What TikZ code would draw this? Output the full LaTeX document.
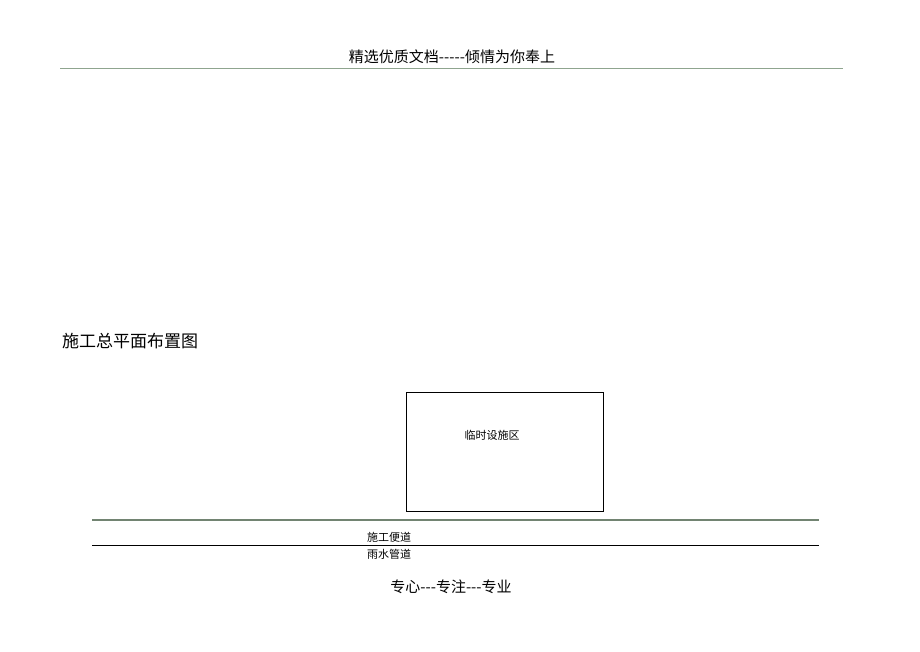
\documentclass[tikz,border=0pt]{standalone}
\usepackage{fontspec}
\setmainfont{Noto Sans CJK SC}
\usetikzlibrary{positioning}
\definecolor{rulegreen}{HTML}{8FA58F}
\tikzset{
	lbl/.style={inner sep=0pt, anchor=west},
}
\begin{document}
\begin{tikzpicture}[scale=1,x=1pt,y=-1pt]
	\useasboundingbox (0,0) rectangle (920,651);
	% header
	\node[inner sep=0pt, font=\fontsize{15}{15}\selectfont] (head) at (452,57) {精选优质文档{-}{-}{-}{-}{-}倾情为你奉上};
	\coordinate (hl) at (60,68);
	\coordinate (hr) at (843,68);
	\draw[rulegreen, line width=1pt] (hl) -- (hr);
	
	\node[lbl, font=\fontsize{17}{17}\selectfont] (title) at (62,341) {施工总平面布置图};
	
	\node[inner sep=0pt,
	minimum width=197pt,
	minimum height=119pt,
	draw=black,
	line width=0.8pt,
	anchor=north west] (camp) at (406,392) {};
	\node[inner sep=0pt, font=\fontsize{11}{11}\selectfont] (campl) at (492,435) {临时设施区};
	
	\coordinate (r1l) at (92,520);
	\coordinate (r1r) at (819,520);
	\draw[rulegreen!80!black, line width=1.4pt] (r1l) -- (r1r);
	\node[lbl, font=\fontsize{11}{11}\selectfont] (road) at (367,537) {施工便道};
	\coordinate (r2l) at (92,545);
	\coordinate (r2r) at (819,545);
	\draw[black, line width=0.8pt] (r2l) -- (r2r);
	\node[lbl, font=\fontsize{11}{11}\selectfont] (pipe) at (367,554) {雨水管道};
	
	% footer
	\node[inner sep=0pt, font=\fontsize{15}{15}\selectfont] (foot) at (451,587) {专心{-}{-}{-}专注{-}{-}{-}专业};
\end{tikzpicture}
\end{document}
